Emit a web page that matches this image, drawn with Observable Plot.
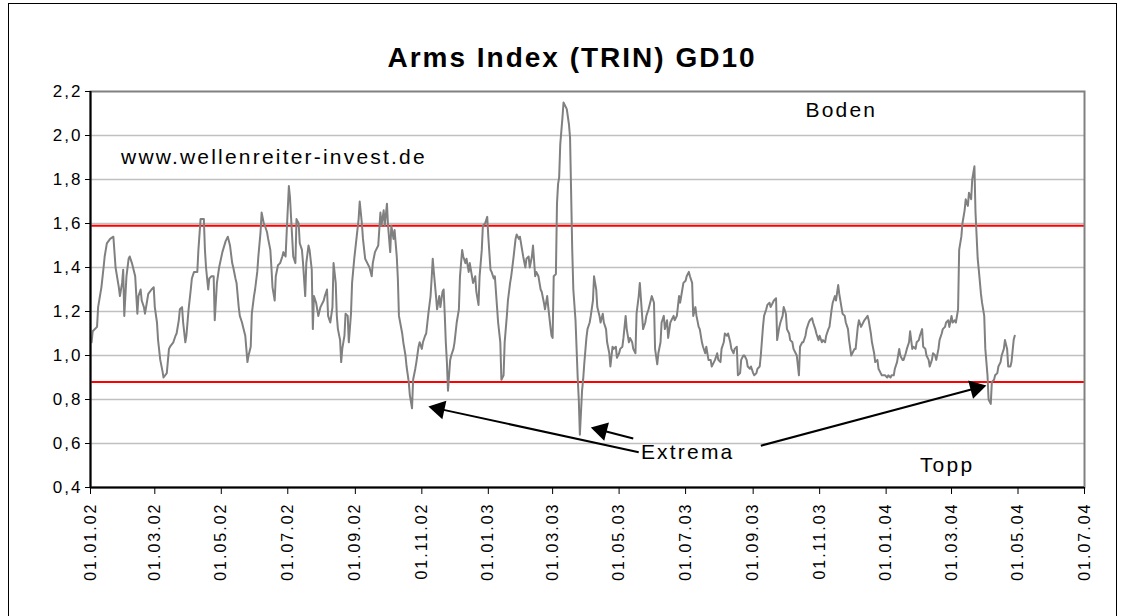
<!DOCTYPE html>
<html><head><meta charset="utf-8">
<script src="https://cdn.jsdelivr.net/npm/d3@7"></script>
<script src="https://cdn.jsdelivr.net/npm/@observablehq/plot@0.6"></script>
<style>
html,body{margin:0;padding:0;background:#fff;}
#wrap{position:relative;width:1123px;height:616px;overflow:hidden;font-family:"Liberation Sans",Arial,sans-serif;background:#fff;}
#border{position:absolute;left:8px;top:3px;width:1109px;height:700px;border:1px solid #000;box-sizing:border-box;}
#chart{position:absolute;left:0;top:0;}
#title{position:absolute;left:0;top:44px;width:1144px;text-align:center;font-weight:bold;font-size:28px;line-height:28px;letter-spacing:2px;color:#000;}
#chart svg g[aria-label="x-axis tick label"] text{letter-spacing:2px;}
#chart svg g[aria-label="y-axis tick label"] text{letter-spacing:2px;}
#chart svg g[aria-label="annotation"] text,
#chart svg text[aria-label="annotation"],
#chart svg g[aria-label="text"] text{letter-spacing:2.2px;}
</style></head><body>
<div id="wrap"><div id="border"></div><div id="chart"></div><div id="title">Arms Index (TRIN) GD10</div></div>
<script>
// ---- data ----
const dates2002 = ["2002-01-02","2002-01-03","2002-01-07","2002-01-08","2002-01-11","2002-01-13","2002-01-14","2002-01-16","2002-01-19","2002-01-22","2002-01-24","2002-01-25","2002-01-27","2002-01-28","2002-01-30","2002-01-31","2002-02-01","2002-02-03","2002-02-05","2002-02-06","2002-02-08","2002-02-11","2002-02-13","2002-02-14","2002-02-16","2002-02-17","2002-02-19","2002-02-20","2002-02-22","2002-02-23","2002-02-26","2002-02-28","2002-03-01","2002-03-03","2002-03-04","2002-03-06","2002-03-08","2002-03-09","2002-03-12","2002-03-14","2002-03-15","2002-03-18","2002-03-20","2002-03-21","2002-03-23","2002-03-24","2002-03-26","2002-03-27","2002-03-29","2002-03-30","2002-04-01","2002-04-03","2002-04-04","2002-04-06","2002-04-09","2002-04-10","2002-04-12","2002-04-15","2002-04-16","2002-04-17","2002-04-19","2002-04-20","2002-04-22","2002-04-24","2002-04-25","2002-04-27","2002-04-29","2002-05-02","2002-05-05","2002-05-07","2002-05-09","2002-05-11","2002-05-12","2002-05-14","2002-05-15","2002-05-17","2002-05-18","2002-05-20","2002-05-21","2002-05-23","2002-05-25","2002-05-26","2002-05-28","2002-05-29","2002-05-31","2002-06-01","2002-06-03","2002-06-04","2002-06-06","2002-06-07","2002-06-09","2002-06-10","2002-06-12","2002-06-13","2002-06-15","2002-06-16","2002-06-17","2002-06-19","2002-06-20","2002-06-22","2002-06-24","2002-06-26","2002-06-27","2002-06-29","2002-06-30","2002-07-02","2002-07-03","2002-07-05","2002-07-06","2002-07-08","2002-07-09","2002-07-11","2002-07-12","2002-07-14","2002-07-15","2002-07-17","2002-07-18","2002-07-20","2002-07-21","2002-07-23","2002-07-24","2002-07-25","2002-07-27","2002-07-29","2002-07-31","2002-08-03","2002-08-04","2002-08-06","2002-08-07","2002-08-09","2002-08-11","2002-08-12","2002-08-14","2002-08-15","2002-08-16","2002-08-18","2002-08-19","2002-08-20","2002-08-22","2002-08-23","2002-08-25","2002-08-26","2002-08-28","2002-08-29","2002-08-31","2002-09-02","2002-09-04","2002-09-05","2002-09-07","2002-09-08","2002-09-10","2002-09-12","2002-09-14","2002-09-16","2002-09-17","2002-09-19","2002-09-20","2002-09-22","2002-09-24","2002-09-25","2002-09-27","2002-09-28","2002-09-30","2002-10-01","2002-10-03","2002-10-04","2002-10-06","2002-10-07","2002-10-09","2002-10-10","2002-10-11","2002-10-14","2002-10-15","2002-10-17","2002-10-18","2002-10-20","2002-10-21","2002-10-23","2002-10-24","2002-10-26","2002-10-27","2002-10-29","2002-10-30","2002-11-01","2002-11-02","2002-11-04","2002-11-05","2002-11-07","2002-11-09","2002-11-10","2002-11-11","2002-11-12","2002-11-14","2002-11-15","2002-11-17","2002-11-18","2002-11-20","2002-11-21","2002-11-22","2002-11-23","2002-11-24","2002-11-25","2002-11-27","2002-11-28","2002-11-30","2002-12-01","2002-12-03","2002-12-05","2002-12-06","2002-12-08","2002-12-09","2002-12-11","2002-12-12","2002-12-14","2002-12-15","2002-12-17","2002-12-18","2002-12-20","2002-12-21","2002-12-23","2002-12-24","2002-12-26","2002-12-27","2002-12-29","2002-12-31"];
const trin2002 = [1.06,1.11,1.13,1.22,1.31,1.40,1.45,1.51,1.53,1.54,1.40,1.37,1.31,1.27,1.33,1.39,1.18,1.36,1.44,1.45,1.42,1.36,1.19,1.27,1.30,1.25,1.22,1.19,1.25,1.28,1.30,1.31,1.22,1.15,1.07,0.98,0.93,0.90,0.92,1.03,1.04,1.06,1.09,1.10,1.16,1.21,1.22,1.15,1.06,1.09,1.21,1.30,1.35,1.38,1.38,1.48,1.62,1.62,1.48,1.40,1.30,1.35,1.36,1.36,1.16,1.33,1.40,1.47,1.52,1.54,1.50,1.42,1.40,1.35,1.33,1.22,1.18,1.15,1.13,1.09,0.97,1.00,1.04,1.19,1.27,1.30,1.38,1.45,1.56,1.65,1.60,1.59,1.56,1.53,1.48,1.40,1.31,1.25,1.36,1.41,1.42,1.45,1.47,1.45,1.56,1.77,1.72,1.54,1.45,1.42,1.62,1.60,1.51,1.48,1.42,1.27,1.42,1.50,1.48,1.39,1.12,1.27,1.24,1.18,1.22,1.25,1.27,1.30,1.18,1.15,1.22,1.42,1.33,1.18,1.12,1.07,0.97,1.03,1.09,1.19,1.18,1.06,1.19,1.33,1.44,1.53,1.62,1.70,1.60,1.53,1.44,1.42,1.40,1.36,1.42,1.47,1.48,1.50,1.65,1.59,1.66,1.59,1.69,1.59,1.47,1.59,1.53,1.57,1.45,1.35,1.18,1.10,1.06,1.00,0.95,0.88,0.82,0.76,0.89,0.94,0.97,1.04,1.06,1.03,1.06,1.09,1.10,1.19,1.27,1.35,1.44,1.38,1.27,1.21,1.27,1.22,1.29,1.30,1.19,1.06,0.97,0.84,0.98,1.00,1.03,1.06,1.15,1.21,1.36,1.48,1.45,1.42,1.44,1.38,1.42,1.36,1.33,1.36,1.29,1.23,1.36,1.48,1.59,1.60,1.63];

const dates2003 = ["2003-01-01","2003-01-03","2003-01-04","2003-01-06","2003-01-07","2003-01-09","2003-01-10","2003-01-12","2003-01-13","2003-01-15","2003-01-16","2003-01-18","2003-01-19","2003-01-21","2003-01-22","2003-01-24","2003-01-26","2003-01-27","2003-01-29","2003-01-30","2003-02-01","2003-02-02","2003-02-04","2003-02-05","2003-02-07","2003-02-08","2003-02-10","2003-02-11","2003-02-13","2003-02-14","2003-02-16","2003-02-18","2003-02-19","2003-02-21","2003-02-22","2003-02-24","2003-02-25","2003-02-27","2003-02-28","2003-03-01","2003-03-02","2003-03-04","2003-03-05","2003-03-06","2003-03-07","2003-03-08","2003-03-10","2003-03-11","2003-03-13","2003-03-14","2003-03-16","2003-03-17","2003-03-19","2003-03-20","2003-03-22","2003-03-24","2003-03-25","2003-03-26","2003-03-28","2003-03-29","2003-03-30","2003-04-01","2003-04-02","2003-04-04","2003-04-05","2003-04-07","2003-04-08","2003-04-10","2003-04-11","2003-04-13","2003-04-14","2003-04-16","2003-04-17","2003-04-19","2003-04-20","2003-04-22","2003-04-23","2003-04-25","2003-04-26","2003-04-28","2003-04-29","2003-05-01","2003-05-02","2003-05-04","2003-05-05","2003-05-07","2003-05-08","2003-05-10","2003-05-11","2003-05-13","2003-05-14","2003-05-16","2003-05-17","2003-05-19","2003-05-20","2003-05-22","2003-05-23","2003-05-25","2003-05-26","2003-05-28","2003-05-30","2003-05-31","2003-06-02","2003-06-03","2003-06-05","2003-06-06","2003-06-08","2003-06-09","2003-06-11","2003-06-12","2003-06-14","2003-06-15","2003-06-17","2003-06-18","2003-06-20","2003-06-21","2003-06-23","2003-06-25","2003-06-26","2003-06-28","2003-06-29","2003-07-01","2003-07-02","2003-07-04","2003-07-05","2003-07-07","2003-07-08","2003-07-10","2003-07-11","2003-07-13","2003-07-14","2003-07-16","2003-07-17","2003-07-19","2003-07-20","2003-07-22","2003-07-24","2003-07-25","2003-07-27","2003-07-28","2003-07-30","2003-07-31","2003-08-02","2003-08-03","2003-08-05","2003-08-06","2003-08-08","2003-08-09","2003-08-11","2003-08-12","2003-08-14","2003-08-15","2003-08-17","2003-08-18","2003-08-20","2003-08-21","2003-08-23","2003-08-24","2003-08-26","2003-08-27","2003-08-29","2003-08-30","2003-09-01","2003-09-02","2003-09-04","2003-09-05","2003-09-07","2003-09-08","2003-09-10","2003-09-11","2003-09-13","2003-09-14","2003-09-16","2003-09-17","2003-09-19","2003-09-20","2003-09-22","2003-09-23","2003-09-25","2003-09-26","2003-09-28","2003-09-29","2003-10-01","2003-10-02","2003-10-04","2003-10-05","2003-10-07","2003-10-08","2003-10-10","2003-10-11","2003-10-13","2003-10-14","2003-10-16","2003-10-17","2003-10-19","2003-10-20","2003-10-22","2003-10-23","2003-10-25","2003-10-26","2003-10-28","2003-10-29","2003-10-31","2003-11-01","2003-11-03","2003-11-04","2003-11-06","2003-11-07","2003-11-09","2003-11-10","2003-11-12","2003-11-13","2003-11-15","2003-11-16","2003-11-18","2003-11-19","2003-11-21","2003-11-22","2003-11-24","2003-11-25","2003-11-27","2003-11-28","2003-11-30","2003-12-01","2003-12-03","2003-12-04","2003-12-06","2003-12-07","2003-12-09","2003-12-12","2003-12-15","2003-12-16","2003-12-18","2003-12-19","2003-12-21","2003-12-22","2003-12-24","2003-12-25","2003-12-27","2003-12-28","2003-12-30","2003-12-31"];
const trin2003 = [1.54,1.39,1.38,1.35,1.36,1.22,1.15,1.06,0.89,0.91,1.06,1.18,1.25,1.33,1.36,1.44,1.53,1.55,1.53,1.54,1.48,1.45,1.40,1.44,1.45,1.40,1.45,1.50,1.36,1.38,1.36,1.30,1.29,1.24,1.21,1.27,1.22,1.13,1.09,1.08,1.36,1.37,1.69,1.78,1.81,1.96,2.08,2.15,2.13,2.12,2.05,1.99,1.48,1.30,1.16,0.90,0.80,0.64,0.84,0.89,0.96,1.08,1.12,1.15,1.18,1.25,1.36,1.30,1.22,1.18,1.15,1.19,1.15,1.12,1.06,1.01,0.95,1.04,1.03,1.04,0.99,1.01,1.03,1.04,1.08,1.18,1.12,1.06,1.08,1.06,1.03,1.01,1.19,1.27,1.33,1.19,1.12,1.15,1.18,1.21,1.25,1.27,1.24,1.03,0.96,1.01,1.06,1.15,1.18,1.12,1.16,1.08,1.15,1.16,1.18,1.16,1.18,1.27,1.24,1.30,1.33,1.34,1.36,1.38,1.36,1.33,1.18,1.22,1.18,1.13,1.12,1.06,1.04,1.01,1.04,0.98,0.98,0.95,0.97,0.98,1.01,0.98,0.97,1.03,1.06,1.10,1.09,1.10,1.06,1.03,1.01,1.03,1.04,0.91,0.92,0.98,1.00,1.00,0.98,0.95,0.94,0.95,0.92,0.91,0.92,0.94,0.95,1.00,1.13,1.18,1.21,1.23,1.24,1.22,1.24,1.25,1.26,1.07,1.13,1.15,1.18,1.22,1.19,1.12,1.10,1.07,1.06,1.03,1.01,1.00,0.91,1.04,1.06,1.06,1.09,1.12,1.15,1.16,1.17,1.15,1.12,1.10,1.07,1.09,1.06,1.07,1.06,1.09,1.12,1.13,1.21,1.24,1.27,1.25,1.32,1.28,1.22,1.19,1.18,1.15,1.12,1.07,1.00,1.01,1.03,1.03,1.13,1.16,1.13,1.16,1.18,1.16,1.10,1.06,1.01,0.97,0.98,0.94,0.92,0.91,0.91,0.91];

const dates2004 = ["2004-01-02","2004-01-03","2004-01-05","2004-01-06","2004-01-08","2004-01-09","2004-01-11","2004-01-13","2004-01-14","2004-01-16","2004-01-17","2004-01-19","2004-01-20","2004-01-22","2004-01-23","2004-01-25","2004-01-26","2004-01-28","2004-01-29","2004-01-31","2004-02-01","2004-02-03","2004-02-04","2004-02-06","2004-02-07","2004-02-09","2004-02-10","2004-02-12","2004-02-13","2004-02-15","2004-02-16","2004-02-18","2004-02-19","2004-02-21","2004-02-22","2004-02-24","2004-02-25","2004-02-27","2004-02-28","2004-03-01","2004-03-02","2004-03-04","2004-03-05","2004-03-07","2004-03-08","2004-03-10","2004-03-11","2004-03-13","2004-03-14","2004-03-16","2004-03-17","2004-03-19","2004-03-20","2004-03-22","2004-03-23","2004-03-25","2004-03-26","2004-03-28","2004-03-29","2004-03-31","2004-04-01","2004-04-03","2004-04-04","2004-04-06","2004-04-07","2004-04-09","2004-04-10","2004-04-12","2004-04-13","2004-04-15","2004-04-16","2004-04-18","2004-04-19","2004-04-21","2004-04-22","2004-04-24","2004-04-25","2004-04-27","2004-04-28"];
const trin2004 = [0.90,0.91,0.90,0.91,0.91,0.94,0.97,1.03,1.00,0.98,0.98,1.01,1.03,1.06,1.11,1.03,1.04,1.03,1.06,1.07,1.09,1.12,1.04,1.03,1.00,0.98,0.95,0.98,1.01,1.00,0.98,1.03,1.07,1.10,1.12,1.13,1.15,1.16,1.13,1.18,1.15,1.16,1.15,1.21,1.48,1.54,1.60,1.66,1.71,1.68,1.74,1.71,1.80,1.86,1.65,1.44,1.39,1.28,1.24,1.18,1.03,0.91,0.80,0.78,0.88,0.89,0.91,0.92,0.95,0.97,1.00,1.03,1.07,1.03,0.95,0.95,0.97,1.07,1.09];

// axis ticks
const xTickDates = ["2002-01-01","2002-03-01","2002-05-01","2002-07-01","2002-09-01","2002-11-01","2003-01-01","2003-03-01","2003-05-01","2003-07-01","2003-09-01","2003-11-01","2004-01-01","2004-03-01","2004-05-01","2004-07-01"];
const yTicks = [0.4,0.6,0.8,1.0,1.2,1.4,1.6,1.8,2.0,2.2];
const xDomainDates = ["2002-01-01","2004-07-01"];
const yDomain = [0.4, 2.2];

// reference levels
const levels = [1.59, 0.88];

// annotations
const noteText = ["www.wellenreiter-invest.de","Boden","Extrema","Topp"];
const noteX = ["2002-01-29","2003-10-19","2003-05-21","2004-02-01"];
const noteY = [1.90, 2.115, 0.56, 0.50];

// arrows: from tail (x1,y1) to tip (x2,y2)
const arrowX1 = ["2003-05-19","2003-05-14","2003-09-08"];
const arrowY1 = [0.56, 0.623, 0.59];
const arrowX2 = ["2002-11-07","2003-04-05","2004-04-02"];
const arrowY2 = [0.768, 0.673, 0.864];

// ---- build ----
const toRows = (ds, vs) => ds.map((d, i) => ({date: new Date(d), value: vs[i]}));
const series = [...toRows(dates2002, trin2002), ...toRows(dates2003, trin2003), ...toRows(dates2004, trin2004)];
const notes = noteText.map((t, i) => ({text: t, x: new Date(noteX[i]), y: noteY[i]}));

const font = '"Liberation Sans", Arial, sans-serif';
const common = {
  width: 1123, height: 616,
  marginLeft: 90, marginRight: 39, marginTop: 91, marginBottom: 129,
  x: {type: "utc", domain: xDomainDates.map(d => new Date(d))},
  y: {type: "linear", domain: yDomain},
  style: {fontFamily: font, fontSize: "16px", color: "#000", background: "transparent", overflow: "visible"}
};

// first pass: get scales to place arrow heads in screen space
const base = Plot.plot({...common, marks: [Plot.ruleY([yDomain[0]])]});
const sx = base.scale("x"), sy = base.scale("y");
const tipBack = 10.9;
const arrows = arrowX1.map((x1, i) => {
  const d1 = new Date(x1), d2 = new Date(arrowX2[i]);
  const px1 = sx.apply(d1), py1 = sy.apply(arrowY1[i]);
  const px2 = sx.apply(d2), py2 = sy.apply(arrowY2[i]);
  const len = Math.hypot(px2 - px1, py2 - py1);
  const ux = (px2 - px1) / len, uy = (py2 - py1) / len;
  const cx = px2 - ux * tipBack, cy = py2 - uy * tipBack;
  return {x1: d1, y1: arrowY1[i], hx: sx.invert(cx), hy: sy.invert(cy),
          angle: Math.atan2(ux, -uy) * 180 / Math.PI};
});

const chart = Plot.plot({
  ...common,
  marks: [
    Plot.ruleY(yTicks.slice(1, -1), {stroke: "#c0c0c0", strokeWidth: 1.5}),
    Plot.ruleY(levels, {stroke: "#ff0000", strokeWidth: 2}),
    Plot.line(series, {x: "date", y: "value", stroke: "#808080", strokeWidth: 2}),
    Plot.frame({stroke: "#808080", strokeWidth: 2}),
    Plot.ruleX([new Date(xDomainDates[0])], {stroke: "#000", strokeWidth: 2}),
    Plot.ruleY([yDomain[0]], {stroke: "#000", strokeWidth: 2}),
    Plot.axisY({ticks: yTicks, tickFormat: d => d.toFixed(1).replace(".", ","), tickSize: 5, tickPadding: 3, fontSize: 17, label: null, stroke: "#000"}),
    Plot.axisX({ticks: xTickDates.map(d => new Date(d)), tickFormat: d3.utcFormat("%d.%m.%y"), tickRotate: -90, tickSize: 7, tickPadding: 8, fontSize: 16, label: null, stroke: "#000"}),
    Plot.text(notes, {x: "x", y: "y", text: "text", textAnchor: "start", fontSize: 21, fill: "#000"}),
    Plot.link(arrows, {x1: "x1", y1: "y1", x2: "hx", y2: "hy", stroke: "#000", strokeWidth: 2}),
    Plot.dot(arrows, {x: "hx", y: "hy", symbol: "triangle", r: 7, fill: "#000", stroke: "none", rotate: "angle"})
  ]
});
document.getElementById("chart").appendChild(chart);
</script>
</body></html>
